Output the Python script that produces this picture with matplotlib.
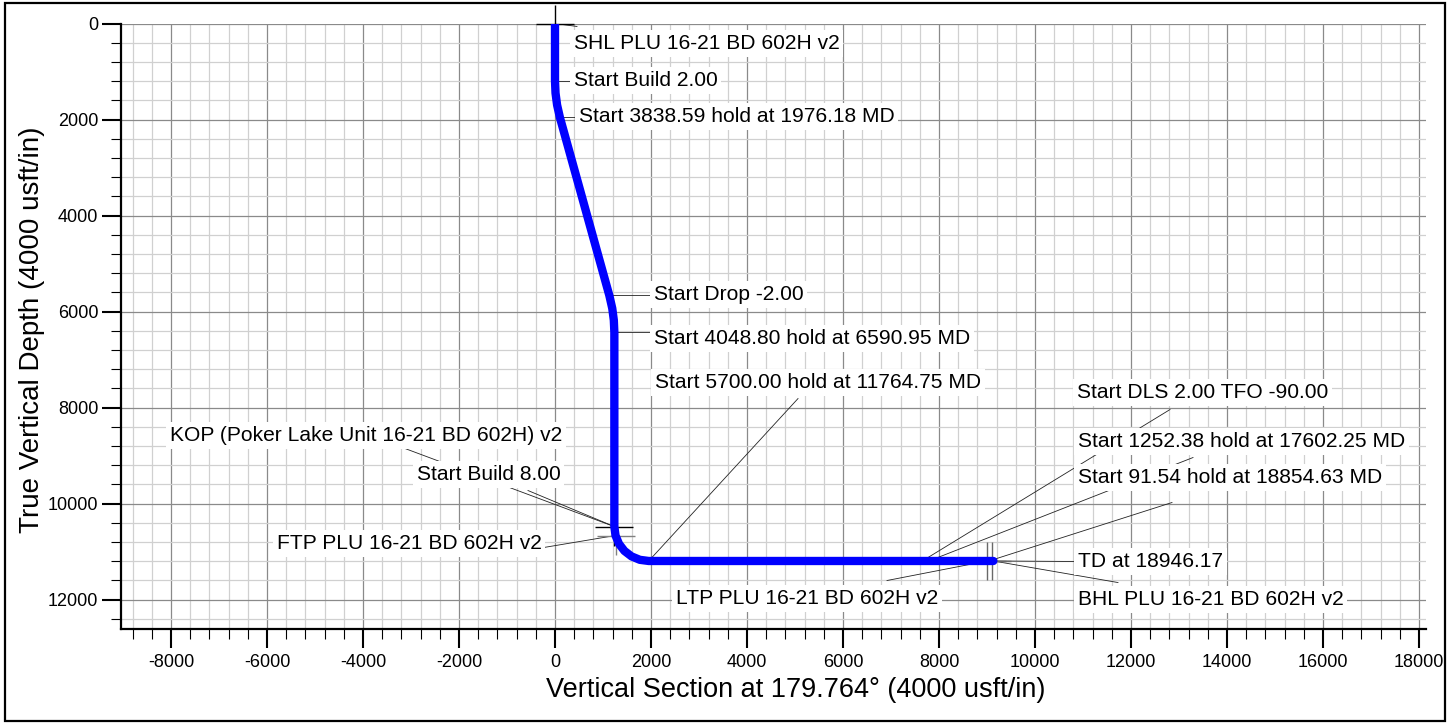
import matplotlib
matplotlib.use("Agg")
import matplotlib.pyplot as plt
import matplotlib.patches as patches
from matplotlib.ticker import MultipleLocator

plt.rcParams['font.family'] = ['Liberation Sans', 'DejaVu Sans']
plt.rcParams['axes.unicode_minus'] = False

# well path: vertical section (usft) and true vertical depth (usft)
vs = [0, 0, 10.9, 43.5, 104.6, 1131.9, 1192.9, 1225.6, 1236.5, 1236.5, 1260.9,
      1332.4, 1446.3, 1594.6, 1767.3, 1952.7, 7652.7, 7790.2, 9041.0, 9132.5]
tvd = [0, 1200, 1449.7, 1697.5, 1966.7, 5665.4, 5934.7, 6182.2, 6432.1, 10480.9,
       10666.3, 10839.0, 10987.3, 11101.1, 11172.7, 11197.1, 11197.1, 11197.1,
       11197.1, 11197.1]

# target crosses
tgt_vs = [0, 1236.5, 1260.9, 9010, 9110]
tgt_tvd = [0, 10480.9, 10666.3, 11197.1, 11197.1]
tgt_col = ['black', 'black', 'gray', 'dimgray', 'dimgray']

# annotation labels and the point on the path each refers to
labels = ['SHL PLU 16-21 BD 602H v2', 'Start Build 2.00',
          'Start 3838.59 hold at 1976.18 MD', 'Start Drop -2.00',
          'Start 4048.80 hold at 6590.95 MD', 'Start 5700.00 hold at 11764.75 MD',
          'KOP (Poker Lake Unit 16-21 BD 602H) v2', 'Start Build 8.00',
          'FTP PLU 16-21 BD 602H v2', 'LTP PLU 16-21 BD 602H v2',
          'Start DLS 2.00 TFO -90.00', 'Start 1252.38 hold at 17602.25 MD',
          'Start 91.54 hold at 18854.63 MD', 'TD at 18946.17',
          'BHL PLU 16-21 BD 602H v2']
pt_vs = [0, 0, 104, 1131.9, 1236.5, 1952.7, 1236.5, 1236.5, 1260.9, 9010,
         7652.7, 7790.2, 9041.0, 9132.5, 9132.5]
pt_tvd = [0, 1188, 1944, 5652, 6432, 11197, 10481, 10481, 10666, 11197,
          11197, 11197, 11197, 11197, 11197]

# layout: where each label sits (left edge, middle) and where its leader ends
txt_x = [396, 396, 500, 2063, 2063, 2083, -8021, -2875, -5792, 2521,
         10875, 10896, 10896, 10896, 10896]
txt_y = [417, 1188, 1938, 5646, 6563, 7479, 8583, 9396, 10833, 11979,
         7688, 8708, 9458, 11208, 12000]
end_x = [458, 375, 479, 2021, 2021, 5063, -3125, -563, -860, 6917,
         12813, 13292, 12854, 10875, 11729]
end_y = [62, 1188, 1944, 5652, 6432, 7813, 8854, 9729, 11021, 11604,
         8042, 9042, 9979, 11208, 11646]

fig = plt.figure(figsize=(14.55, 7.24), dpi=100)
ax = fig.add_axes([120.7 / 1455, 1 - 629 / 724, (1426 - 120.7) / 1455, (629 - 23.5) / 724])

ax.set_xlim(-9048, 18146)
ax.set_ylim(12614, 0)

ax.xaxis.set_major_locator(MultipleLocator(2000))
ax.xaxis.set_minor_locator(MultipleLocator(400))
ax.yaxis.set_major_locator(MultipleLocator(2000))
ax.yaxis.set_minor_locator(MultipleLocator(400))
ax.grid(which='major', color='#8a8a8a', lw=0.9, zorder=0)
ax.grid(which='minor', color='#d0d0d0', lw=0.9, zorder=0)
ax.set_axisbelow(True)

for s in ['top', 'right']:
    ax.spines[s].set_visible(False)
for s in ['left', 'bottom']:
    ax.spines[s].set_linewidth(1.6)
ax.tick_params(which='major', direction='out', length=14, width=1.5, labelsize=13, pad=4)
ax.tick_params(which='minor', direction='out', length=7, width=0.8)
ax.tick_params(axis='y', which='major', pad=2)

xl = ax.set_xlabel('Vertical Section at 179.764° (4000 usft/in)', fontsize=19.5)
xl.set_va('center')
ax.xaxis.set_label_coords(0.517, -0.1007)
yl = ax.set_ylabel('True Vertical Depth (4000 usft/in)', fontsize=20)
yl.set_va('center')
ax.yaxis.set_label_coords(-0.068, 0.495)

# leader lines
for i in range(len(labels)):
    ax.plot([pt_vs[i], end_x[i]], [pt_tvd[i], end_y[i]], color='#222222', lw=0.6, zorder=3)

# target crosses
for i in range(len(tgt_vs)):
    ax.plot(tgt_vs[i], tgt_tvd[i], marker='+', ms=28, mew=1.0, color=tgt_col[i],
            zorder=4, clip_on=False)

ax.plot(vs, tvd, color='#0000ff', lw=6, solid_capstyle='round', zorder=5)

for i in range(len(labels)):
    ax.text(txt_x[i], txt_y[i], labels[i], fontsize=15.1, ha='left', va='center',
            zorder=6, bbox=dict(facecolor='white', edgecolor='none', pad=2.5))

fig.patches.append(patches.Rectangle((5 / 1455, 3 / 724), 1440 / 1455, 718 / 724,
                                     transform=fig.transFigure, fill=False,
                                     lw=1.6, ec='black'))

fig.savefig('out.png', dpi=100)
